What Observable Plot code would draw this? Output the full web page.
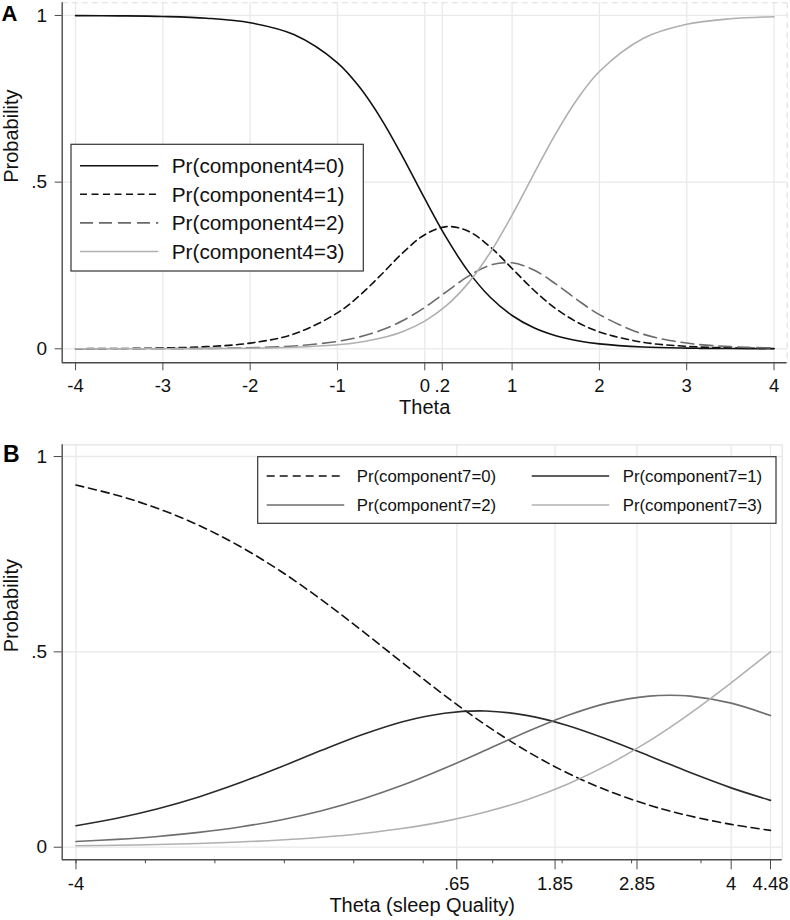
<!DOCTYPE html>
<html>
<head>
<meta charset="utf-8">
<script src="https://cdn.jsdelivr.net/npm/d3@7"></script>
<script src="https://cdn.jsdelivr.net/npm/@observablehq/plot@0.6"></script>
<style>
  html, body { margin: 0; padding: 0; background: #fff; }
  #wrap { position: relative; width: 790px; height: 920px; overflow: hidden; }
  #wrap svg { position: absolute; left: 0; }
</style>
</head>
<body>
<div id="wrap"></div>
<script>
// ---------- Panel A data ----------
const thetaA = [-4,-3.5,-3,-2.5,-2,-1.5,-1,-0.75,-0.5,-0.25,0,0.25,0.5,0.75,1,1.25,1.5,1.75,2,2.5,3,3.5,4];
const a_p0 = [0.9996,0.9989,0.997,0.9918,0.9781,0.9427,0.8581,0.7858,0.69,0.5744,0.4502,0.3318,0.2315,0.1545,0.0998,0.063,0.0392,0.0241,0.0148,0.0055,0.002,0.0007,0.0003];
const a_p1 = [0.0003,0.0009,0.0024,0.0064,0.0171,0.0444,0.1077,0.159,0.2221,0.2886,0.3423,0.3666,0.3527,0.3056,0.2409,0.1757,0.1205,0.0793,0.0506,0.0196,0.0074,0.0027,0.001];
const a_p2 = [0.0001,0.0002,0.0004,0.0012,0.0031,0.0084,0.0221,0.0354,0.0556,0.0848,0.1243,0.1715,0.218,0.2509,0.258,0.2363,0.1946,0.1463,0.1026,0.044,0.0172,0.0065,0.0024];
const a_p3 = [0,0.0001,0.0002,0.0006,0.0017,0.0045,0.0121,0.0198,0.0323,0.0522,0.0832,0.1301,0.1978,0.289,0.4013,0.525,0.6457,0.7503,0.832,0.9309,0.9734,0.9901,0.9963];
const namesA = ["Pr(component4=0)","Pr(component4=1)","Pr(component4=2)","Pr(component4=3)"];
const xTicksA = [-4,-3,-2,-1,0,0.2,1,2,3,4];
const xLabelsA = ["-4","-3","-2","-1","0",".2","1","2","3","4"];

// ---------- Panel B data ----------
const thetaB = [-4,-3.5,-3,-2.5,-2,-1.5,-1,-0.5,0,0.5,1,1.5,2,2.5,3,3.25,3.5,4,4.48];
const b_p0 = [0.9269,0.9009,0.867,0.8239,0.7703,0.7064,0.633,0.553,0.4701,0.3889,0.3132,0.2466,0.19,0.1441,0.1076,0.0927,0.0797,0.0584,0.0431];
const b_p1 = [0.0551,0.0741,0.0985,0.1286,0.1647,0.2053,0.248,0.2884,0.3219,0.3429,0.3487,0.3374,0.3117,0.2751,0.2336,0.2121,0.191,0.1519,0.1199];
const b_p2 = [0.0145,0.0201,0.0276,0.0379,0.0517,0.0699,0.0935,0.1234,0.1596,0.202,0.2481,0.2949,0.3371,0.3695,0.3867,0.389,0.3867,0.3688,0.337];
const b_p3 = [0.0036,0.0049,0.0069,0.0096,0.0133,0.0184,0.0255,0.0352,0.0484,0.0662,0.09,0.1211,0.1612,0.2113,0.2721,0.3062,0.3426,0.4209,0.5];
const namesB = ["Pr(component7=0)","Pr(component7=1)","Pr(component7=2)","Pr(component7=3)"];
const xTicksB = [-4,0.65,1.85,2.85,4,4.48];
const xLabelsB = ["-4",".65","1.85","2.85","4","4.48"];
const xMinorB = [-4,-3.152,-2.304,-1.456,-0.608,0.24,1.088,1.936,2.784,3.632,4.48];

const yTicks = [0, 0.5, 1];
const yLabels = ["0", ".5", "1"];

// ---------- styles ----------
const FONT = '"Liberation Sans", Arial, Helvetica, sans-serif';
const GRID = "#e9e9e9";
const AX = "#4a4a4a";
const TXT = "#111";

const stylesA = [
  {color: "#111", dash: null},
  {color: "#111", dash: "7,4.5"},
  {color: "#6b6b6b", dash: "13,6"},
  {color: "#b0b0b0", dash: null}
];
const stylesB = [
  {color: "#111", dash: "8,5"},
  {color: "#2a2a2a", dash: null},
  {color: "#6e6e6e", dash: null},
  {color: "#b0b0b0", dash: null}
];

function rows(theta, vals) { return theta.map((t, i) => ({theta: t, p: vals[i]})); }
function lineMarks(theta, valueLists, styles) {
  return valueLists.map((vals, i) => Plot.line(rows(theta, vals), {
    x: "theta", y: "p", stroke: styles[i].color, strokeWidth: 1.6,
    strokeDasharray: styles[i].dash || undefined, curve: "catmull-rom"
  }));
}
function fmt(ticks, labels) {
  const m = new Map(ticks.map((t, i) => [t, labels[i]]));
  return d => m.get(d) ?? "";
}

function addLegend(svg, names, styles, cfg) {
  const g = d3.select(svg).append("g").attr("font-family", FONT).attr("font-size", cfg.fontSize)
    .attr("text-anchor", "start");
  g.append("rect").attr("x", cfg.x).attr("y", cfg.y).attr("width", cfg.w).attr("height", cfg.h)
    .attr("fill", "white").attr("stroke", "#333").attr("stroke-width", 1.2);
  names.forEach((name, i) => {
    const col = i % cfg.cols, row = Math.floor(i / cfg.cols);
    const cy = cfg.row0 + row * cfg.rowH;
    const x0 = cfg.swX[col];
    g.append("line").attr("x1", x0).attr("x2", x0 + cfg.swW).attr("y1", cy).attr("y2", cy)
      .attr("stroke", styles[i].color).attr("stroke-width", 1.6)
      .attr("stroke-dasharray", styles[i].dash);
    g.append("text").attr("x", cfg.textX[col]).attr("y", cy).attr("dy", "0.36em")
      .attr("text-anchor", "start").attr("fill", TXT).text(name);
  });
}
function addPanelLabel(svg, label, x, y, size) {
  d3.select(svg).append("text").attr("x", x).attr("y", y).attr("text-anchor", "start")
    .attr("font-family", FONT).attr("font-weight", "bold").attr("font-size", size)
    .attr("fill", "#000").text(label);
}

const wrap = document.getElementById("wrap");

// ---------- Panel A ----------
const xDomA = [-4.153, 4.151], yDomA = [-0.042, 1.038];
const svgA = Plot.plot({
  width: 790, height: 420,
  marginLeft: 61.7, marginRight: 3.3, marginTop: 2.3, marginBottom: 57.7,
  x: {domain: xDomA}, y: {domain: yDomA},
  style: {fontFamily: FONT, fontSize: "19px", color: TXT, background: "white", overflow: "visible"},
  marks: [
    Plot.gridX(xTicksA, {stroke: GRID, strokeOpacity: 1, strokeWidth: 1.3}),
    Plot.gridY(yTicks, {stroke: GRID, strokeOpacity: 1, strokeWidth: 1.3}),
    Plot.ruleY([yDomA[1]], {stroke: "#dcdcdc", strokeDasharray: "6,4"}),
    Plot.ruleX([xDomA[1]], {stroke: "#dcdcdc", strokeDasharray: "6,4"}),
    ...lineMarks(thetaA, [a_p0, a_p1, a_p2, a_p3], stylesA),
    Plot.ruleX([xDomA[0]], {stroke: AX, strokeWidth: 1.4}),
    Plot.ruleY([yDomA[0]], {stroke: AX, strokeWidth: 1.4}),
    Plot.axisX(xTicksA, {tickSize: 8, tickPadding: 8, tickFormat: fmt(xTicksA, xLabelsA), stroke: AX, fill: TXT, fontSize: 18.5, label: null}),
    Plot.axisY(yTicks, {tickSize: 7, tickPadding: 8, tickFormat: fmt(yTicks, yLabels), stroke: AX, fill: TXT, fontSize: 19, label: null}),
    Plot.text(["Theta"], {frameAnchor: "bottom", dy: 51.5, fontSize: 20, fill: TXT}),
    Plot.text(["Probability"], {frameAnchor: "left", rotate: -90, dx: -50.5, fontSize: 20, fill: TXT})
  ]
});
svgA.style.top = "0px";
wrap.appendChild(svgA);
addLegend(svgA, namesA, stylesA, {
  x: 71, y: 144.3, w: 292.3, h: 126.7, cols: 1,
  row0: 165.7, rowH: 28.6, swX: [80], swW: 78.3, textX: [171.7], fontSize: "20.8px"
});
addPanelLabel(svgA, "A", 1.5, 20.7, "22px");

// ---------- Panel B ----------
const xDomB = [-4.168, 4.623], yDomB = [-0.0322, 1.030];
const svgB = Plot.plot({
  width: 790, height: 500,
  marginLeft: 61.7, marginRight: 8.3, marginTop: 24.3, marginBottom: 60.7,
  x: {domain: xDomB}, y: {domain: yDomB},
  style: {fontFamily: FONT, fontSize: "19px", color: TXT, background: "white", overflow: "visible"},
  marks: [
    Plot.gridX(xTicksB, {stroke: GRID, strokeOpacity: 1, strokeWidth: 1.3}),
    Plot.gridY(yTicks, {stroke: GRID, strokeOpacity: 1, strokeWidth: 1.3}),
    Plot.ruleY([yDomB[1]], {stroke: "#e4e4e4", strokeWidth: 1.3}),
    Plot.ruleX([xDomB[1]], {stroke: "#e4e4e4", strokeWidth: 1.3}),
    ...lineMarks(thetaB, [b_p0, b_p1, b_p2, b_p3], stylesB),
    Plot.ruleX([xDomB[0]], {stroke: AX, strokeWidth: 1.4}),
    Plot.ruleY([yDomB[0]], {stroke: AX, strokeWidth: 1.4}),
    Plot.axisX(xMinorB, {tickSize: 4, tickFormat: () => "", stroke: AX, label: null}),
    Plot.axisX(xTicksB, {tickSize: 10, tickPadding: 7, tickFormat: fmt(xTicksB, xLabelsB), stroke: AX, fill: TXT, fontSize: 18.5, label: null}),
    Plot.axisY(yTicks, {tickSize: 8, tickPadding: 7, tickFormat: fmt(yTicks, yLabels), stroke: AX, fill: TXT, fontSize: 19, label: null}),
    Plot.text(["Theta (sleep Quality)"], {frameAnchor: "bottom", dy: 52.5, fontSize: 20, fill: TXT}),
    Plot.text(["Probability"], {frameAnchor: "left", rotate: -90, dx: -50.5, fontSize: 20, fill: TXT})
  ]
});
svgB.style.top = "420px";
wrap.appendChild(svgB);
addLegend(svgB, namesB, stylesB, {
  x: 257.7, y: 36.7, w: 518.3, h: 66.6, cols: 2,
  row0: 56, rowH: 29, swX: [266.7, 531.7], swW: 77.5, textX: [356.7, 622.7], fontSize: "16.8px"
});
addPanelLabel(svgB, "B", 3, 41.7, "23px");
</script>
</body>
</html>
